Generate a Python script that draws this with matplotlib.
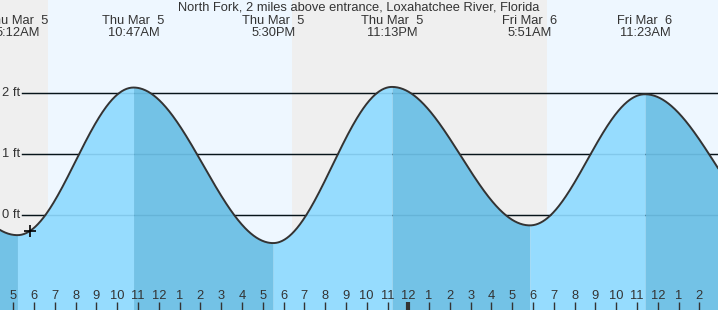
import numpy as np
import matplotlib
matplotlib.use('Agg')
import matplotlib.pyplot as plt
import matplotlib.transforms as mtransforms

# tide extremes (hours from Thu Mar 5 00:00, height in ft)
ext_hours = [-1.65, 5.2, 10.783, 17.5, 23.217, 29.85, 35.383, 42.2]
ext_heights = [2.0, -0.33, 2.09, -0.46, 2.10, -0.17, 1.98, -0.33]
ext_labels = ['Thu Mar  5\n5:12AM', 'Thu Mar  5\n10:47AM', 'Thu Mar  5\n5:30PM',
              'Thu Mar  5\n11:13PM', 'Fri Mar  6\n5:51AM', 'Fri Mar  6\n11:23AM']
daylight = [(6.683, 18.405), (30.67, 42.4)]
now_hour = 5.80
ft_ticks = [0, 1, 2]
title = 'North Fork, 2 miles above entrance, Loxahatchee River, Florida'

NIGHT = '#efefef'
DAY = '#eef7ff'
RISE = '#96dcfe'
FALL = '#73c2e6'
TXT = '#333333'
FS = 9.3

x0, x1 = 4.36, 38.896
y0, y1 = -1.557, 3.525

fig = plt.figure(figsize=(7.18, 3.10), dpi=100)
ax = fig.add_axes([0, 0, 1, 1])
ax.set_xlim(x0, x1)
ax.set_ylim(y0, y1)
ax.axis('off')
ax.add_patch(plt.Rectangle((0, 0), 1, 1, transform=ax.transAxes, color=NIGHT, zorder=0))
for a, b in daylight:
    ax.axvspan(a, b, color=DAY, lw=0, zorder=0.5)

plt.rcParams['font.family'] = ['Liberation Sans', 'DejaVu Sans']

# grid lines (under the fill)
for v in ft_ticks:
    ax.plot([x0 + 22 / 20.79, x1], [v, v], color='black', lw=1, zorder=1)
    ax.text(x0 + 2 / 20.79, v, f'{v} ft', ha='left', va='center', fontsize=FS, color=TXT, zorder=1)

# curve built segment by segment between extremes
def seg(i, n=200):
    t0, t1 = ext_hours[i], ext_hours[i + 1]
    h0, h1 = ext_heights[i], ext_heights[i + 1]
    t = np.linspace(t0, t1, n)
    h = h0 + (h1 - h0) * (1 - np.cos(np.pi * (t - t0) / (t1 - t0))) / 2
    return t, h

allt, allh = [], []
for i in range(len(ext_hours) - 1):
    t, h = seg(i)
    col = RISE if ext_heights[i + 1] > ext_heights[i] else FALL
    ax.fill_between(t, y0 - 1, h, color=col, lw=0, zorder=2)
    allt.append(t)
    allh.append(h)
allt = np.concatenate(allt)
allh = np.concatenate(allh)
ax.plot(allt, allh, color=TXT, lw=1.4, zorder=4, solid_capstyle='round')

# faint grid lines on top of the fill
for v in ft_ticks:
    ax.plot([x0 + 22 / 20.79, x1], [v, v], color='#2a6f95', lw=1, alpha=0.18, zorder=3)

# current time marker
ax.plot([now_hour], [np.interp(now_hour, allt, allh)], marker='+', ms=9, mew=1.2,
        color='black', zorder=5)

trans = mtransforms.blended_transform_factory(ax.transData, ax.transAxes)
for t, lab in zip(ext_hours[1:-1], ext_labels):
    ax.text(t, 1 - 27 / 310, lab, transform=trans, ha='center', va='center',
            fontsize=FS, color=TXT, linespacing=1.05, zorder=6)
fig.text(0.5, 1 - 8 / 310, title, ha='center', va='center', fontsize=FS, color=TXT)

# hour ticks along bottom
for hr in range(5, 39):
    lw = 3 if hr % 24 == 0 else 1
    ax.plot([hr, hr], [0, 8 / 310], transform=trans, color=TXT, lw=lw, zorder=6,
            solid_capstyle='butt')
    lab = hr % 12
    lab = 12 if lab == 0 else lab
    ax.text(hr, 14 / 310, str(lab), transform=trans, ha='center', va='center',
            fontsize=FS, color=TXT, zorder=6)

fig.savefig('out.png', dpi=100)
